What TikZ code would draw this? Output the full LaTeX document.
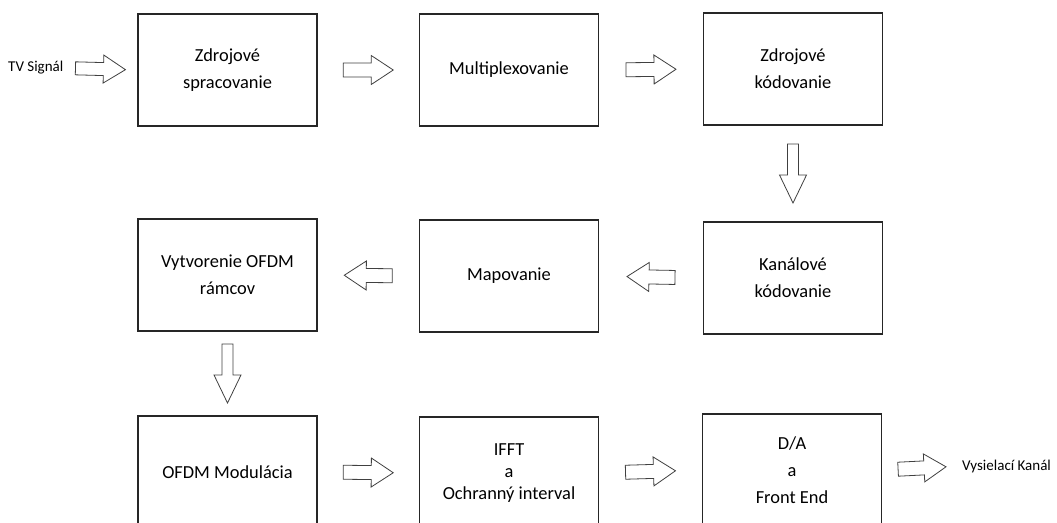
\documentclass[tikz,border=0pt]{standalone}
\usepackage{fontspec}
\setmainfont{Carlito}
\usetikzlibrary{calc}
\def\fatarrow(#1)(#2)(#3:#4:#5:#6){%
	\coordinate (fa-m) at ($(#1)!0.5!(#2)$);
	\coordinate (fa-s) at ($(fa-m)!#3!(#1)$);
	\coordinate (fa-e) at ($(fa-m)!#3!(#2)$);
	\coordinate (fa-b) at ($(fa-e)!#6!(fa-s)$);
	\draw[fatline] ($(fa-s)!#4!90:(fa-e)$) -- ($(fa-b)!#4!90:(fa-e)$) -- ($(fa-b)!#5!90:(fa-e)$) -- (fa-e) -- ($(fa-b)!#5!-90:(fa-e)$) -- ($(fa-b)!#4!-90:(fa-e)$) -- ($(fa-s)!#4!-90:(fa-e)$) -- cycle;}
\tikzset{
	blok/.style={draw=black!85, line width=1.2pt, minimum width=179pt, minimum height=112pt, inner sep=0pt, align=center, font=\fontsize{18.4}{27}\selectfont},
	popis/.style={inner sep=0pt, anchor=west, font=\fontsize{15}{18}\selectfont},
	fatline/.style={draw=black!75, line width=0.8pt, fill=white, line join=miter}
}
\begin{document}
\begin{tikzpicture}[x=1pt, y=-1pt]
			%%%%% START %%%%%
			\useasboundingbox (0,0) rectangle (1057,522);
			\clip (0,0) rectangle (1057,522);
			
			\node[blok] (zdroj) at (227.5,70) {Zdrojové\\spracovanie};
			\node[blok] (mux) at (509,70) {Multiplexovanie};
			\node[blok] (kod) at (793,69) {Zdrojové\\kódovanie};
			
			\node[blok] (kanal) at (793,278) {Kanálové\\kódovanie};
			\node[blok] (map) at (509,276) {Mapovanie};
			\node[blok] (ramce) at (227.5,275) {Vytvorenie OFDM\\rámcov};
			
			\node[blok] (modul) at (227.5,472) {OFDM Modulácia};
			\node[blok, font=\fontsize{18.4}{22}\selectfont] (ifft) at (509,473) {IFFT\\a\\Ochranný interval};
			\node[blok] (da) at (792,470) {D/A\\a\\Front End};
			
			\node[popis] (tv) at (8,68) {TV Signál};
			\node[popis] (von) at (962,466) {Vysielací Kanál};
			
			\fatarrow(tv.east)(zdroj.west)(25pt:6.5pt:14pt:22pt)
			\fatarrow(zdroj.east)(mux.west)(25pt:7pt:14.5pt:22pt)
			\fatarrow(mux.east)(kod.west)(25pt:7pt:14.5pt:22pt)
			\fatarrow(kod.south)(kanal.north)(29.5pt:5.5pt:13.5pt:28pt)
			\fatarrow(kanal.west)(map.east)(24pt:7pt:14.5pt:22pt)
			\fatarrow(map.west)(ramce.east)(24pt:7pt:14.5pt:22pt)
			\fatarrow(ramce.south)(modul.north)(29.5pt:5.5pt:13.5pt:28pt)
			\fatarrow(modul.east)(ifft.west)(25pt:7pt:14.5pt:22pt)
			\fatarrow(ifft.east)(da.west)(25pt:7pt:14.5pt:22pt)
			\fatarrow(da.east)(von.west)(24pt:7pt:14pt:22pt)
			
			%%%%% END %%%%%
\end{tikzpicture}
\end{document}
